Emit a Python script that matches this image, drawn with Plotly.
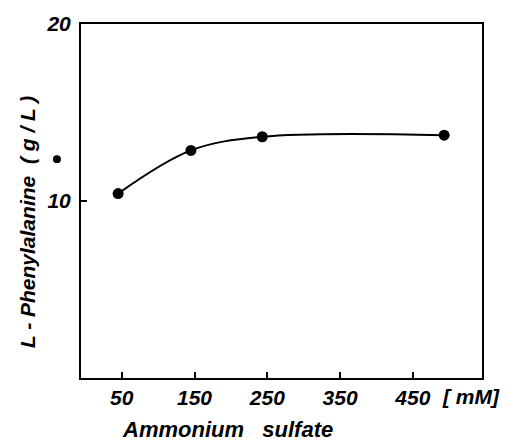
import plotly.graph_objects as go

ammonium_sulfate_mM = [45, 145, 243, 493]
phenylalanine_gL = [10.42, 12.86, 13.63, 13.72]
x_tick_vals = [50, 150, 250, 350, 450]
x_tick_text = ["50", "150", "250", "350", "450"]
y_tick_vals = [10, 20]
y_tick_text = ["10", "20"]

FONT = "Liberation Sans"

fig = go.Figure()
fig.add_trace(go.Scatter(
    x=ammonium_sulfate_mM, y=phenylalanine_gL,
    mode="lines+markers",
    line=dict(color="black", width=2, shape="spline", smoothing=1.0),
    marker=dict(color="black", size=11),
    showlegend=False, hoverinfo="skip",
))

axis_common = dict(
    showgrid=False, zeroline=False, showline=True, linecolor="black",
    linewidth=2, mirror=True, ticks="inside", ticklen=6, tickwidth=1.5,
    tickcolor="black",
    tickfont=dict(family=FONT, size=21, color="black", style="italic", weight=600),
)

fig.update_xaxes(range=[-6, 545], tickvals=x_tick_vals, ticktext=x_tick_text,
                 ticklabelstandoff=0, **axis_common)
fig.update_yaxes(range=[0, 20], tickvals=y_tick_vals, ticktext=y_tick_text,
                 ticklabelstandoff=4, **axis_common)

fig.update_layout(
    width=509, height=444,
    margin=dict(l=81, r=27, t=14, b=66),
    paper_bgcolor="white", plot_bgcolor="white",
    annotations=[
        dict(text="[ mM]", xref="paper", yref="paper", x=0.895, y=-0.014,
             xanchor="left", yanchor="top", showarrow=False,
             font=dict(family=FONT, size=21, color="black", style="italic", weight=600)),
        dict(text="Ammonium   sulfate", xref="paper", yref="paper", x=0.365, y=-0.105,
             xanchor="center", yanchor="top", showarrow=False,
             font=dict(family=FONT, size=22, color="black", style="italic", weight=600)),
        dict(text="L - Phenylalanine  ( g / L )", xref="paper", yref="paper", x=-0.135, y=0.44,
             xanchor="center", yanchor="middle", textangle=-90, showarrow=False,
             font=dict(family=FONT, size=21, color="black", style="italic", weight=600)),
    ],
    shapes=[
        dict(type="circle", xref="paper", yref="paper",
             x0=-0.07, x1=-0.05, y0=0.607, y1=0.629,
             fillcolor="black", line=dict(width=0)),
    ],
)

fig.write_html("out.html")
